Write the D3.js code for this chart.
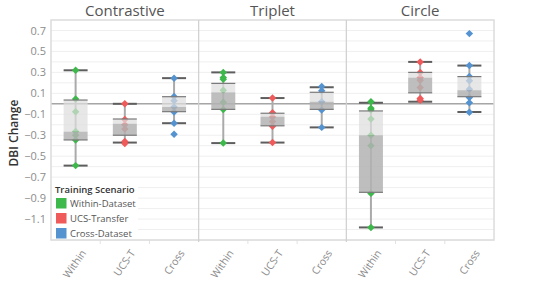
<!DOCTYPE html>
<html>
<head>
<meta charset="utf-8">
<script src="https://cdn.jsdelivr.net/npm/d3@7"></script>
<style>
  html, body { margin: 0; padding: 0; background: #fff; }
  svg { display: block; }
  text { font-family: "Open Sans", "Lato", sans-serif; }
</style>
</head>
<body>
<svg id="chart" width="538" height="300"></svg>
<script>
// ---------- data ----------
const methods = ["Contrastive", "Triplet", "Circle"];
const scenarios = ["Within", "UCS-T", "Cross"];
const scenarioNames = ["Within-Dataset", "UCS-Transfer", "Cross-Dataset"];
const scenarioColors = ["#3db84a", "#ef5a5a", "#5593d0"];
const yTicks = [0.7, 0.5, 0.3, 0.1, -0.1, -0.3, -0.5, -0.7, -0.9, -1.1];

// points per [method][scenario]
const contrastivePoints = [
  [0.32, 0.045, -0.075, -0.265, -0.30, -0.345, -0.59],
  [0.0, -0.15, -0.20, -0.24, -0.36, -0.38],
  [0.245, 0.07, 0.03, -0.03, -0.078, -0.185, -0.29]
];
const tripletPoints = [
  [0.30, 0.25, 0.235, 0.13, 0.015, -0.055, -0.375],
  [0.055, -0.085, -0.125, -0.17, -0.215, -0.37],
  [0.165, 0.125, 0.02, -0.06, -0.225]
];
const circlePoints = [
  [0.02, -0.043, -0.06, -0.145, -0.30, -0.40, -0.855, -1.18],
  [0.40, 0.30, 0.25, 0.225, 0.155, 0.05, 0.035],
  [0.67, 0.365, 0.26, 0.22, 0.14, 0.06, 0.01, -0.08]
];

// box stats in order: Contrastive(W,U,C), Triplet(W,U,C), Circle(W,U,C)
const whiskerHigh = [0.32, 0.0, 0.245, 0.30, 0.055, 0.158, 0.01, 0.40, 0.365];
const upperHinge  = [0.036, -0.145, 0.068, 0.195, -0.09, 0.11, -0.068, 0.30, 0.26];
const medians     = [-0.266, -0.19, -0.03, 0.11, -0.123, 0.02, -0.30, 0.25, 0.13];
const lowerHinge  = [-0.345, -0.30, -0.075, -0.053, -0.21, -0.053, -0.845, 0.105, 0.068];
const whiskerLow  = [-0.59, -0.37, -0.185, -0.375, -0.37, -0.225, -1.18, 0.02, -0.078];

const allPoints = [contrastivePoints, tripletPoints, circlePoints];

// ---------- layout ----------
const svg = d3.select("#chart");
const plot = { left: 51, right: 494, top: 20, bottom: 240 };

const y = d3.scaleLinear().domain([-1.3, 0.8]).range([plot.bottom, plot.top]);
const xPanel = d3.scaleBand().domain(methods).range([plot.left, plot.right]);
const xInner = d3.scaleBand().domain(scenarios).range([0, xPanel.bandwidth()]);
const color = d3.scaleOrdinal().domain(scenarios).range(scenarioColors);

const boxW = 24;

// gridlines
const gridVals = d3.range(-13, 8).map(d => d / 10);
svg.append("g").selectAll("line").data(gridVals).join("line")
  .attr("x1", plot.left).attr("x2", plot.right)
  .attr("y1", d => y(d)).attr("y2", d => y(d))
  .attr("stroke", "#efefef").attr("stroke-width", 1);

// y axis labels
const yAxis = d3.axisLeft(y).tickValues(yTicks).tickSize(0).tickPadding(5)
  .tickFormat(d3.format(".1f"));
const yg = svg.append("g").attr("transform", `translate(${plot.left},0)`).call(yAxis);
yg.select(".domain").remove();
yg.selectAll("text").attr("fill", "#8c8c8c").attr("font-size", "11px")
  .style("font-family", "'Open Sans', sans-serif");

// y title
svg.append("text")
  .attr("transform", `translate(14,133) rotate(-90)`)
  .attr("text-anchor", "middle").attr("dy", "0.35em")
  .attr("font-size", "12px").attr("font-weight", "600").attr("fill", "#333")
  .text("DBI Change");

// panel titles
svg.append("g").selectAll("text").data(methods).join("text")
  .attr("x", d => xPanel(d) + xPanel.bandwidth() / 2).attr("y", 16)
  .attr("text-anchor", "middle").attr("font-size", "15px").attr("fill", "#555")
  .text(d => d);

// x labels
methods.forEach(m => {
  svg.append("g").selectAll("text").data(scenarios).join("text")
    .attr("transform", s => {
      const cx = xPanel(m) + xInner(s) + xInner.bandwidth() / 2 + 8;
      return `translate(${cx},251) rotate(-55)`;
    })
    .attr("text-anchor", "end").attr("dy", "0.35em")
    .attr("font-size", "10.5px").attr("fill", "#8c8c8c")
    .text(s => s);
  // band boundary ticks
  svg.append("g").selectAll("line").data(scenarios.slice(1)).join("line")
    .attr("x1", s => xPanel(m) + xInner(s)).attr("x2", s => xPanel(m) + xInner(s))
    .attr("y1", plot.bottom).attr("y2", plot.bottom + 4)
    .attr("stroke", "#e2e2e2");
});

// zero line
svg.append("line")
  .attr("x1", plot.left).attr("x2", plot.right)
  .attr("y1", y(0)).attr("y2", y(0))
  .attr("stroke", "#a6a6a6").attr("stroke-width", 1.5);

// boxes
const diamond = d3.symbol().type(d3.symbolSquare).size(28);
methods.forEach((m, mi) => {
  scenarios.forEach((s, si) => {
    const idx = mi * 3 + si;
    const cx = xPanel(m) + xInner(s) + xInner.bandwidth() / 2;
    const g = svg.append("g");
    // whisker
    g.append("line").attr("x1", cx).attr("x2", cx)
      .attr("y1", y(whiskerHigh[idx])).attr("y2", y(whiskerLow[idx]))
      .attr("stroke", "#aaaaaa").attr("stroke-width", 2);
    // caps
    [whiskerHigh[idx], whiskerLow[idx]].forEach(v => {
      g.append("line").attr("x1", cx - boxW / 2).attr("x2", cx + boxW / 2)
        .attr("y1", y(v)).attr("y2", y(v))
        .attr("stroke", "#5e5e5e").attr("stroke-width", 2);
    });
    // points
    g.selectAll("path").data(allPoints[mi][si]).join("path")
      .attr("d", diamond)
      .attr("transform", v => `translate(${cx},${y(v)}) rotate(45)`)
      .attr("fill", color(s));
    // box fills
    g.append("rect").attr("x", cx - boxW / 2).attr("width", boxW)
      .attr("y", y(upperHinge[idx])).attr("height", y(medians[idx]) - y(upperHinge[idx]))
      .attr("fill", "#dedede").attr("fill-opacity", 0.72);
    g.append("rect").attr("x", cx - boxW / 2).attr("width", boxW)
      .attr("y", y(medians[idx])).attr("height", y(lowerHinge[idx]) - y(medians[idx]))
      .attr("fill", "#b3b3b3").attr("fill-opacity", 0.85);
    // hinge edges
    [upperHinge[idx], lowerHinge[idx]].forEach(v => {
      g.append("line").attr("x1", cx - boxW / 2).attr("x2", cx + boxW / 2)
        .attr("y1", y(v)).attr("y2", y(v))
        .attr("stroke", "#7a7a7a").attr("stroke-width", 1.2);
    });
  });
});

// frame and dividers
svg.append("rect").attr("x", plot.left).attr("y", plot.top)
  .attr("width", plot.right - plot.left).attr("height", plot.bottom - plot.top)
  .attr("fill", "none").attr("stroke", "#dcdcdc").attr("stroke-width", 1.5);
svg.append("g").selectAll("line").data(methods.slice(1)).join("line")
  .attr("x1", d => xPanel(d)).attr("x2", d => xPanel(d))
  .attr("y1", plot.top).attr("y2", plot.bottom + 2)
  .attr("stroke", "#cfcfcf").attr("stroke-width", 1.2);

// legend
const lg = svg.append("g");
lg.append("rect").attr("x", plot.left + 1).attr("y", 184)
  .attr("width", 86).attr("height", plot.bottom - 184 - 1).attr("fill", "#fff");
lg.append("text").attr("x", 55).attr("y", 193)
  .attr("font-size", "9.5px").attr("font-weight", "600").attr("fill", "#333")
  .text("Training Scenario");
scenarioNames.forEach((n, i) => {
  lg.append("rect").attr("x", 56).attr("y", 198 + i * 15)
    .attr("width", 10.5).attr("height", 10.5).attr("fill", scenarioColors[i]);
  lg.append("text").attr("x", 70).attr("y", 203.5 + i * 15).attr("dy", "0.35em")
    .attr("font-size", "9.5px").attr("fill", "#555").text(n);
});
</script>
</body>
</html>
